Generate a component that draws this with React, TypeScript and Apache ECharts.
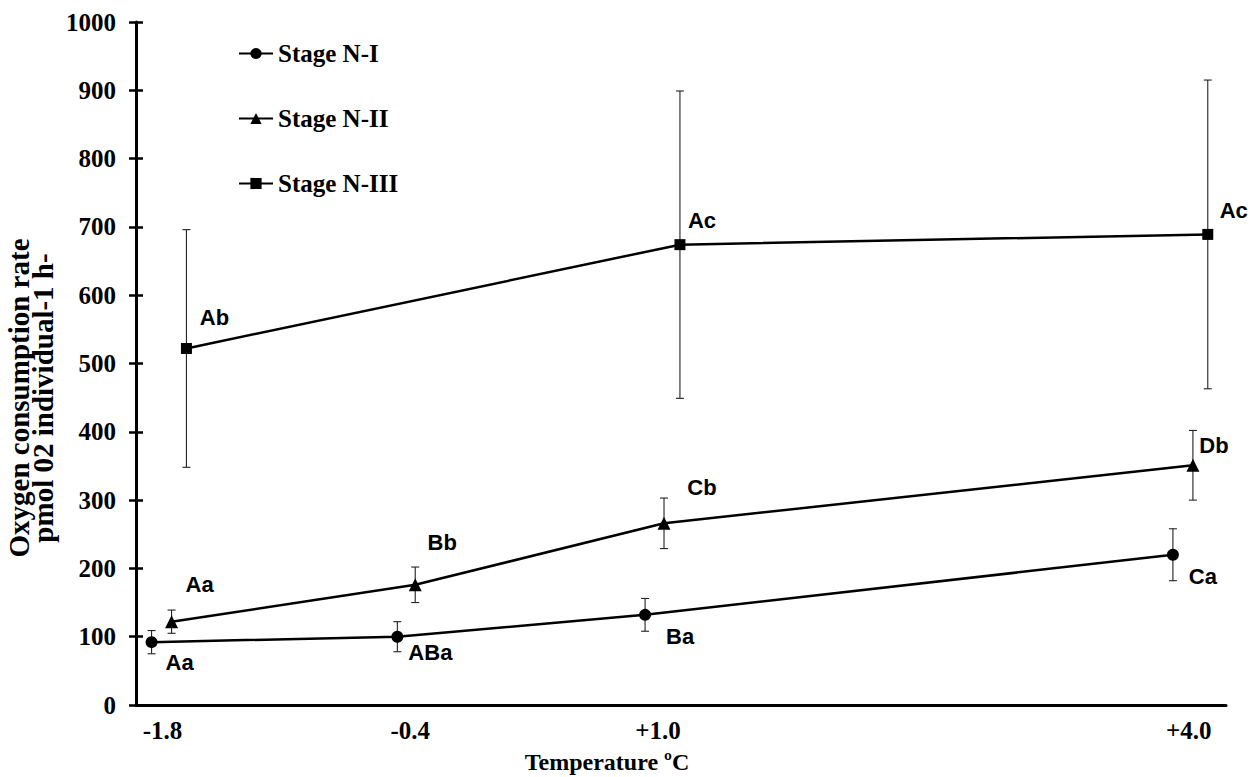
import React, { useEffect, useRef } from "react";
import * as echarts from "echarts";

// ---- data ----
const temperatures = [-1.8, -0.4, 1.0, 4.0];
const xTickLabels = ["-1.8", "-0.4", "+1.0", "+4.0"];
const seriesNames = ["Stage N-I", "Stage N-II", "Stage N-III"];

const n1X = [-1.862, -0.473, 0.927, 3.91];
const n1Y = [92, 100, 132, 220];
const n1Err = [17, 22, 24, 38];
const n1Letters = ["Aa", "ABa", "Ba", "Ca"];

const n2X = [-1.749, -0.372, 1.034, 4.023];
const n2Y = [122, 176, 266, 351];
const n2Err = [17, 26, 37, 51];
const n2Letters = ["Aa", "Bb", "Cb", "Db"];

const n3X = [-1.665, 1.124, 4.107];
const n3Y = [522, 674, 689];
const n3Err = [174, 225, 226];
const n3Letters = ["Ab", "Ac", "Ac"];

const xTitle = "Temperature ºC";
const yTitle = "Oxygen consumption rate\npmol 02 individual-1 h-";

// ---- layout / style (not data) ----
const labelOffsets = [
  [[28, 20], [33, 16], [35, 22], [30, 22]],
  [[28, -37], [27, -42], [38, -36], [21, -20]],
  [[28, -31], [22, -24], [26, -24]],
];
const symbols = ["circle", "triangle", "rect"];
const symbolSizes = [12, 13, 11];
const SERIF = "'Liberation Serif', 'Times New Roman', serif";
const SANS = "'Liberation Sans', Arial, sans-serif";

export default function App() {
  const ref = useRef<HTMLDivElement>(null);
  useEffect(() => {
    if (!ref.current) return;
    const chart = echarts.init(ref.current, null, { renderer: "svg" });
    const groups = [
      { x: n1X, y: n1Y, e: n1Err, l: n1Letters },
      { x: n2X, y: n2Y, e: n2Err, l: n2Letters },
      { x: n3X, y: n3Y, e: n3Err, l: n3Letters },
    ];
    const lineSeries = groups.map((g, si) => ({
      type: "line",
      name: seriesNames[si],
      z: 3,
      symbol: symbols[si],
      symbolSize: symbolSizes[si],
      lineStyle: { color: "#000", width: 2.5 },
      itemStyle: { color: "#000" },
      data: g.x.map((xv, i) => ({
        value: [xv, g.y[i]],
        label: {
          show: true,
          position: "inside",
          formatter: g.l[i],
          offset: labelOffsets[si][i],
          fontFamily: SANS,
          fontWeight: "bold",
          fontSize: 22,
          color: "#000",
        },
      })),
    }));
    const errSeries = groups.map((g, si) => ({
      type: "custom",
      name: seriesNames[si] + " error",
      z: 2,
      encode: { x: 0, y: 1 },
      data: g.x.map((xv, i) => [xv, g.y[i], g.e[i]]),
      renderItem: (params: any, api: any) => {
        const xv = api.value(0);
        const yv = api.value(1);
        const ev = api.value(2);
        const top = api.coord([xv, yv + ev]);
        const bot = api.coord([xv, yv - ev]);
        const hw = 4;
        const st = { stroke: "#222", lineWidth: 1.1 };
        return {
          type: "group",
          children: [
            { type: "line", shape: { x1: top[0], y1: top[1], x2: bot[0], y2: bot[1] }, style: st },
            { type: "line", shape: { x1: top[0] - hw, y1: top[1], x2: top[0] + hw, y2: top[1] }, style: st },
            { type: "line", shape: { x1: bot[0] - hw, y1: bot[1], x2: bot[0] + hw, y2: bot[1] }, style: st },
          ],
        };
      },
    }));
    const axisText = { fontFamily: SERIF, fontWeight: "bold", fontSize: 25, color: "#000" };
    chart.setOption({
      animation: false,
      backgroundColor: "#fff",
      grid: { left: 136, right: 30, top: 22, bottom: 72 },
      legend: {
        data: seriesNames,
        orient: "vertical",
        left: 233,
        top: 36,
        itemWidth: 34,
        itemHeight: 14,
        itemGap: 40,
        textStyle: { ...axisText, fontSize: 25, lineHeight: 25 },
      },
      xAxis: {
        type: "value",
        min: -1.95,
        max: 4.21,
        axisLine: { onZero: false, lineStyle: { color: "#000", width: 3 } },
        axisTick: { show: false },
        splitLine: { show: false },
        axisLabel: {
          ...axisText,
          margin: 13,
          customValues: temperatures,
          formatter: (v: number) => {
            const i = temperatures.findIndex((t) => Math.abs(t - v) < 1e-6);
            return i >= 0 ? xTickLabels[i] : "";
          },
        },
      },
      yAxis: [
        {
          type: "value",
          min: 0,
          max: 1000,
          interval: 100,
          position: "left",
          axisLine: { show: true, onZero: false, lineStyle: { color: "#000", width: 3 } },
          axisTick: { show: true, length: 7, lineStyle: { color: "#000", width: 2.5 } },
          splitLine: { show: false },
          axisLabel: { ...axisText, margin: 20, formatter: (v: number) => String(v) },
        },
        {
          type: "value",
          min: 0,
          max: 1000,
          interval: 100,
          position: "left",
          axisLine: { show: false, onZero: false },
          axisTick: { show: true, inside: true, length: 7, lineStyle: { color: "#000", width: 2.5 } },
          splitLine: { show: false },
          axisLabel: { show: false },
        },
      ],
      graphic: [
        {
          type: "text",
          x: 607,
          y: 762,
          style: { text: xTitle, ...axisText, fontSize: 24, fill: "#000", textAlign: "center", textVerticalAlign: "middle" },
        },
        {
          type: "text",
          x: 31,
          y: 398,
          rotation: Math.PI / 2,
          style: {
            text: yTitle,
            ...axisText,
            fontSize: 29,
            fill: "#000",
            lineHeight: 24,
            textAlign: "center",
            textVerticalAlign: "middle",
          },
        },
      ],
      series: [...errSeries, ...lineSeries],
    });
    return () => chart.dispose();
  }, []);
  return <div ref={ref} style={{ position: "fixed", left: 0, top: 0, width: 1256, height: 777 }} />;
}
